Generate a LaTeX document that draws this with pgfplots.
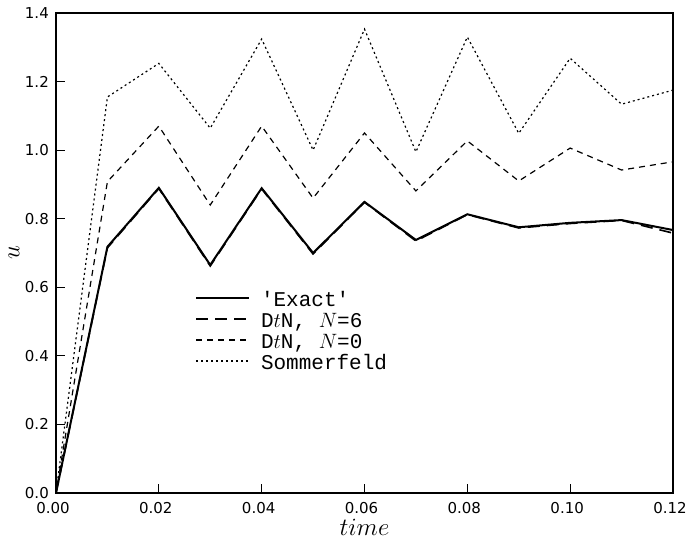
\documentclass[border=0pt]{standalone}
\usepackage{fontspec}
\setmainfont{DejaVu Sans}
\newfontfamily\legfont{Liberation Mono}
\usepackage{pgfplots}
\pgfplotsset{compat=1.18}

\begin{document}
\begin{tikzpicture}
\begin{axis}[
  width=617pt, height=480pt, scale only axis,
  xmin=0, xmax=0.12, ymin=0, ymax=1.4,
  xtick={0,0.02,0.04,0.06,0.08,0.10,0.12},
  ytick={0,0.2,0.4,0.6,0.8,1.0,1.2,1.4},
  scaled x ticks=false, scaled y ticks=false,
  xtick pos=bottom, ytick pos=left,
  tick align=inside, major tick length=9pt,
  axis line style={line width=1.3pt},
  tick style={line width=1.1pt, black},
  /pgf/number format/assume math mode=true,
  xticklabel style={/pgf/number format/.cd, fixed, fixed zerofill, precision=2, /tikz/.cd,
    font=\fontsize{15}{15}\selectfont, anchor=north, inner sep=0pt, yshift=-9pt, xshift=-3pt},
  yticklabel style={/pgf/number format/.cd, fixed, fixed zerofill, precision=1, /tikz/.cd,
    font=\fontsize{15}{15}\selectfont, anchor=east, inner sep=0pt, xshift=-7pt},
  xlabel={$time$},
  ylabel={$u$},
  xlabel style={font=\fontsize{27}{20}\selectfont, inner sep=0pt, at={(axis description cs:0.5,-0.089)}, anchor=base},
  ylabel style={font=\fontsize{28}{20}\selectfont, inner sep=0pt, at={(axis description cs:-0.068,0.5)}, anchor=center},
  legend style={at={(axis description cs:0.225,0.418)}, anchor=north west, draw=none, fill=none,
    font=\legfont\fontsize{21}{21}\selectfont, inner sep=0pt, row sep=0pt, column sep=11pt,
    nodes={inner sep=0pt, text height=14pt, text depth=7pt}},
  legend image code/.code={\draw[#1] (0pt,5pt) -- (53pt,5pt);},
  legend cell align=left,
]
\addplot[black, line width=2pt] coordinates {
  (0,0) (0.01,0.718) (0.02,0.890) (0.03,0.665) (0.04,0.889) (0.05,0.700) (0.06,0.849)
  (0.07,0.738) (0.08,0.813) (0.09,0.775) (0.10,0.788) (0.11,0.796) (0.12,0.767)};
\addlegendentry{\textquotesingle Exact\textquotesingle}
\addplot[black, line width=1.6pt, dash pattern=on 12pt off 7pt] coordinates {
  (0,0) (0.01,0.715) (0.02,0.888) (0.03,0.662) (0.04,0.887) (0.05,0.697) (0.06,0.848)
  (0.07,0.735) (0.08,0.812) (0.09,0.773) (0.10,0.786) (0.11,0.795) (0.12,0.758)};
\addlegendentry{D$t$N, $N$=6}
\addplot[black, line width=1.2pt, dash pattern=on 6pt off 5pt] coordinates {
  (0,0) (0.01,0.908) (0.02,1.070) (0.03,0.840) (0.04,1.070) (0.05,0.860) (0.06,1.050)
  (0.07,0.881) (0.08,1.027) (0.09,0.910) (0.10,1.006) (0.11,0.942) (0.12,0.966)};
\addlegendentry{D$t$N, $N$=0}
\addplot[black, line width=1.2pt, dash pattern=on 2pt off 3pt] coordinates {
  (0,0) (0.01,1.155) (0.02,1.253) (0.03,1.064) (0.04,1.324) (0.05,1.000) (0.06,1.353)
  (0.07,0.995) (0.08,1.330) (0.09,1.049) (0.10,1.268) (0.11,1.134) (0.12,1.175)};
\addlegendentry{Sommerfeld}
\end{axis}
\pgfresetboundingbox
\path ([shift={(-56pt,-48pt)}]current axis.south west) rectangle ([shift={(13pt,13pt)}]current axis.north east);
\end{tikzpicture}
\end{document}
